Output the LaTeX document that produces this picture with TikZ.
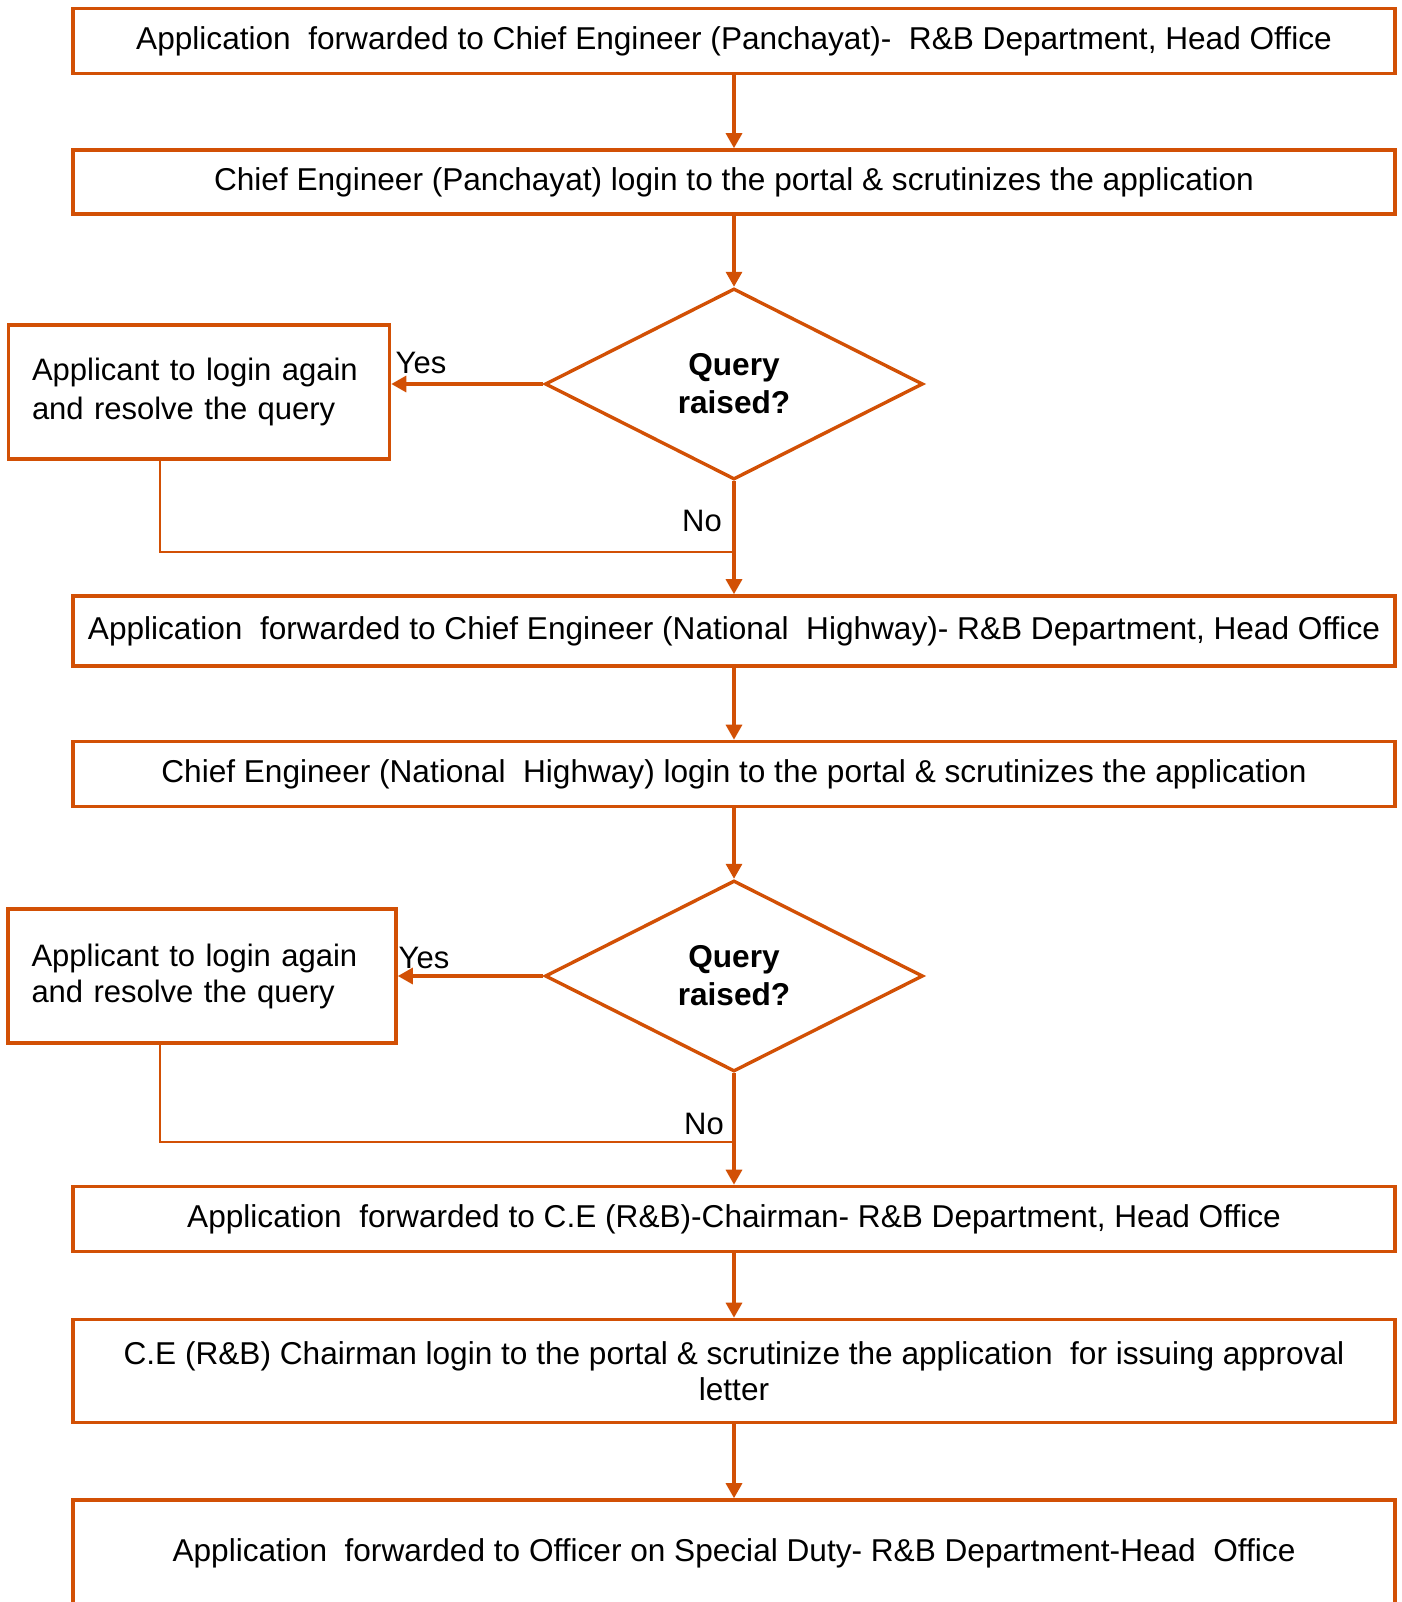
\documentclass[tikz,border=0pt]{standalone}
\usepackage{fontspec}
\setmainfont{Liberation Sans}
\usetikzlibrary{shapes.geometric,arrows.meta}
\definecolor{flow}{RGB}{210,80,5}
\newcommand{\flowfont}{\fontsize{31.6}{38}\selectfont}

\begin{document}
\begin{tikzpicture}[x=1pt,y=-1pt,
    stepbox/.style={draw=flow,line width=3.6pt,minimum width=1322pt,inner sep=4pt,align=center,font=\flowfont},
    querybox/.style={diamond,draw=flow,line width=3.4pt,minimum width=378pt,minimum height=191pt,inner sep=0pt,align=center,font=\flowfont\bfseries},
    backbox/.style={draw=flow,line width=3.6pt,minimum height=134pt,inner xsep=23.5pt,align=left,font=\fontsize{31}{39}\selectfont},
    arr/.style={draw=flow,line width=3.2pt,-{Triangle[length=15pt,width=16pt]}},
    back/.style={draw=flow,line width=1.6pt},
    lbl/.style={font=\fontsize{31}{38}\selectfont,inner sep=0pt}]
\useasboundingbox (0,0) rectangle (1401,1602);

\node[stepbox,minimum height=65pt] (b1) at (734,41) {Application\ \ forwarded to Chief Engineer (Panchayat)-\ \ R\&B Department, Head Office};
\node[stepbox,minimum height=64pt] (b2) at (734,182) {Chief Engineer (Panchayat) login to the portal \& scrutinizes the application};
\node[querybox] (q1) at (734,384) {Query\\raised?};
\node[backbox,minimum width=381pt,text width=334pt] (a1) at (199,392) {Applicant to login again\\and resolve the query};
\node[stepbox,minimum height=70pt] (b3) at (734,631) {Application\ \ forwarded to Chief Engineer (National\ \ Highway)- R\&B Department, Head Office};
\node[stepbox,minimum height=65pt] (b4) at (734,774) {Chief Engineer (National\ \ Highway) login to the portal \& scrutinizes the application};
\node[querybox] (q2) at (734,976) {Query\\raised?};
\node[backbox,minimum width=388pt,text width=341pt,font=\fontsize{31}{36}\selectfont] (a2) at (202,976) {Applicant to login again\\and resolve the query};
\node[stepbox,minimum height=65pt] (b5) at (734,1219) {Application\ \ forwarded to C.E (R\&B)-Chairman- R\&B Department, Head Office};
\node[stepbox,minimum height=103pt,font=\fontsize{31.6}{36}\selectfont] (b6) at (734,1371) {C.E (R\&B) Chairman login to the portal \& scrutinize the application\ \ for issuing approval\\letter};
\node[stepbox,minimum height=106pt] (b7) at (734,1553) {Application\ \ forwarded to Officer on Special Duty- R\&B Department-Head\ \ Office};

\foreach \a/\b in {b1/b2,b2/q1,q1/b3,b3/b4,b4/q2,q2/b5,b5/b6,b6/b7}
{
    \draw[arr] (\a.south) -- (\b.north);
}
\draw[arr] (q1.west) -- (q1.west -| a1.east);
\draw[arr] (q2.west) -- (q2.west -| a2.east);

\coordinate (j1) at (160,552);
\coordinate (j2) at (160,1142);
\draw[back] (a1.south -| j1) -- (j1) -- (j1 -| q1.south);
\draw[back] (a2.south -| j2) -- (j2) -- (j2 -| q2.south);

\node[lbl] (y1) at (421,363) {Yes};
\node[lbl] (n1) at (702,521) {No};
\node[lbl] (y2) at (424,958) {Yes};
\node[lbl] (n2) at (704,1124) {No};
\end{tikzpicture}
\end{document}
